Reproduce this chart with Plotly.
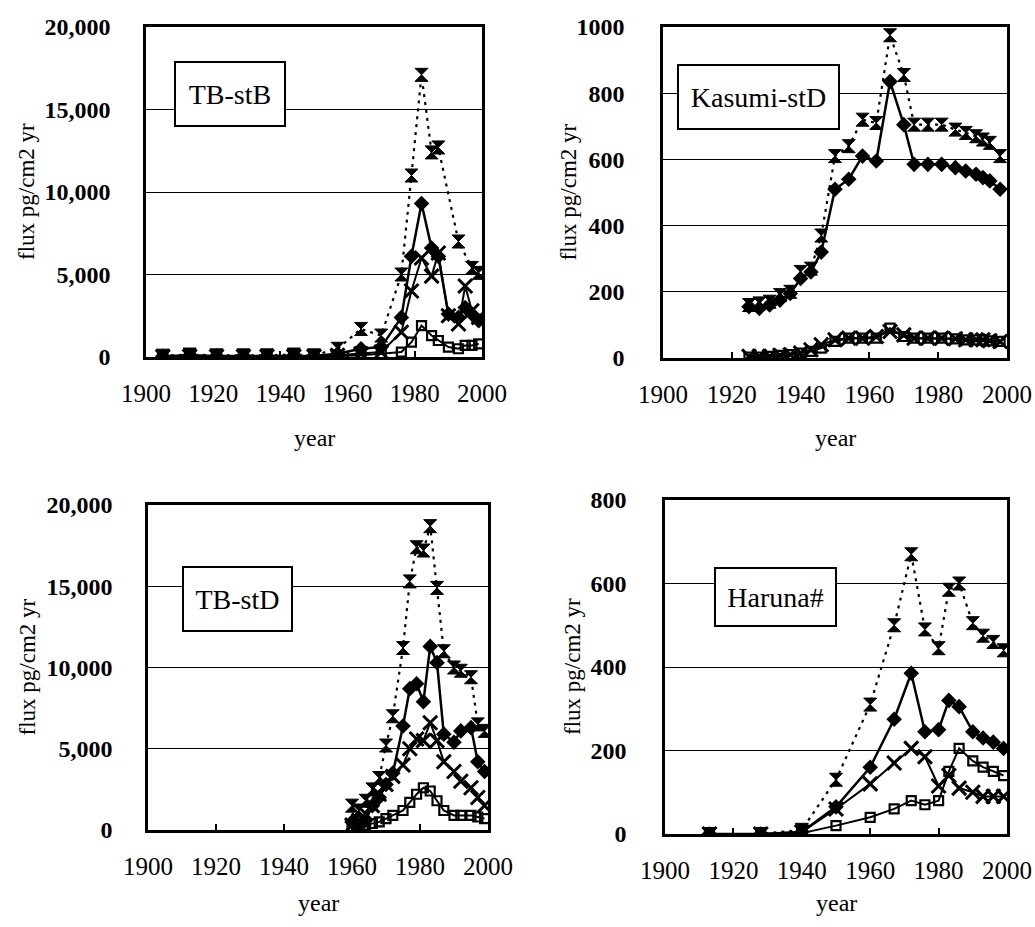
import plotly.graph_objects as go

# ---------------- data ----------------
# Panel 1: TB-stB
tbB_years = [1905, 1913, 1921, 1929, 1936, 1944, 1950, 1957, 1964, 1970,
             1976, 1979, 1982, 1985, 1987, 1990, 1993, 1995, 1997, 1999]
tbB_total_years = [1905, 1913, 1921, 1929, 1936, 1944, 1950, 1957, 1964, 1970,
                   1976, 1979, 1982, 1985, 1987, 1993, 1997, 1999]
tbB_total = [80, 150, 100, 100, 100, 150, 100, 500, 1700, 1300,
             5000, 11000, 17100, 12400, 12700, 7000, 5400, 5100]
tbB_diamond = [50, 100, 60, 60, 60, 100, 60, 200, 500, 600,
               2400, 6100, 9300, 6600, 6100, 2600, 2400, 3000, 2600, 2200]
tbB_cross = [20, 40, 30, 30, 30, 40, 30, 100, 200, 300,
             1500, 4000, 6000, 4900, 6300, 2500, 2000, 4300, 2800, 2400]
tbB_square = [10, 20, 10, 10, 10, 20, 10, 50, 100, 200,
              300, 900, 1900, 1300, 1000, 600, 500, 700, 700, 800]

# Panel 2: Kasumi-stD
kas_years = [1925, 1928, 1931, 1934, 1937, 1940, 1943, 1946, 1950, 1954, 1958, 1962,
             1966, 1970, 1973, 1977, 1981, 1985, 1988, 1991, 1993, 1995, 1998]
kas_total = [160, 165, 170, 190, 200, 260, 270, 370, 610, 640, 720, 710,
             975, 855, 705, 705, 705, 690, 680, 670, 660, 650, 610]
kas_diamond = [155, 150, 160, 175, 195, 240, 260, 320, 510, 540, 610, 595,
               835, 705, 585, 585, 585, 575, 565, 555, 545, 535, 510]
kas_cross = [5, 5, 5, 8, 10, 15, 25, 40, 55, 60, 60, 65,
             80, 70, 60, 60, 60, 58, 55, 55, 55, 52, 50]
kas_square = [3, 3, 5, 8, 10, 15, 20, 30, 50, 60, 60, 60,
              90, 65, 60, 60, 60, 58, 55, 55, 55, 52, 50]

# Panel 3: TB-stD
tbD_years = [1960, 1962, 1964, 1966, 1968, 1970, 1972, 1975, 1977, 1979,
             1981, 1983, 1985, 1987, 1990, 1992, 1995, 1997, 1999]
tbD_total = [1500, 1200, 1800, 2500, 3200, 5200, 7000, 11200, 15300, 17400,
             17200, 18700, 14900, 11000, 10000, 9800, 9400, 6500, 6100]
tbD_diamond = [500, 300, 600, 1500, 2000, 2800, 3500, 6400, 8700, 9000,
               7900, 11300, 10300, 5900, 5400, 6100, 6300, 4200, 3600]
tbD_cross = [300, 600, 1000, 1500, 2200, 2800, 3300, 4000, 5000, 5600,
             5500, 6600, 5500, 4200, 3600, 3000, 2600, 2000, 1500]
tbD_square = [200, 200, 300, 400, 500, 700, 900, 1200, 1700, 2200,
              2600, 2400, 1800, 1200, 900, 900, 900, 800, 700]

# Panel 4: Haruna#
har_years = [1913, 1928, 1940, 1950, 1960, 1967, 1972, 1976, 1980,
             1983, 1986, 1990, 1993, 1996, 1999]
har_total = [0, 0, 10, 130, 310, 500, 670, 490, 445, 585, 600, 505, 475, 460, 440]
har_diamond = [0, 0, 5, 65, 160, 275, 385, 245, 250, 320, 305, 245, 230, 220, 205]
har_cross = [0, 0, 5, 60, 120, 170, 205, 185, 115, 140, 110, 100, 90, 90, 90]
har_square = [0, 0, 2, 20, 40, 60, 80, 70, 80, 150, 205, 175, 160, 150, 140]

x_ticks = [1900, 1920, 1940, 1960, 1980, 2000]
panel_labels = ["TB-stB", "Kasumi-stD", "TB-stD", "Haruna#"]

# ---------------- figure ----------------
W, H = 1035, 927
SERIF = "Liberation Serif"

def px_x(p):
    return p / W

def px_y(p):
    return 1 - p / H

fig = go.Figure()

panels = [
    dict(years=tbB_years, tyears=tbB_total_years, total=tbB_total, diamond=tbB_diamond,
         cross=tbB_cross, square=tbB_square, ax=""),
    dict(years=kas_years, tyears=kas_years, total=kas_total, diamond=kas_diamond,
         cross=kas_cross, square=kas_square, ax="2"),
    dict(years=tbD_years, tyears=tbD_years, total=tbD_total, diamond=tbD_diamond,
         cross=tbD_cross, square=tbD_square, ax="3"),
    dict(years=har_years, tyears=har_years, total=har_total, diamond=har_diamond,
         cross=har_cross, square=har_square, ax="4"),
]

for p in panels:
    xa, ya = "x" + p["ax"], "y" + p["ax"]
    fig.add_trace(go.Scatter(x=p["years"], y=p["square"], xaxis=xa, yaxis=ya, mode="lines+markers",
                             line=dict(color="black", width=2),
                             marker=dict(symbol="square-open", size=9, color="black",
                                         line=dict(width=2.2, color="black"))))
    fig.add_trace(go.Scatter(x=p["years"], y=p["cross"], xaxis=xa, yaxis=ya, mode="lines+markers",
                             line=dict(color="black", width=2),
                             marker=dict(symbol="x-thin-open", size=14, color="black",
                                         line=dict(width=3, color="black"))))
    fig.add_trace(go.Scatter(x=p["years"], y=p["diamond"], xaxis=xa, yaxis=ya, mode="lines+markers",
                             line=dict(color="black", width=2.5),
                             marker=dict(symbol="diamond", size=12, color="black")))
    fig.add_trace(go.Scatter(x=p["tyears"], y=p["total"], xaxis=xa, yaxis=ya, mode="lines+markers",
                             line=dict(color="black", width=2.2, dash="3px,5px"),
                             marker=dict(symbol="hourglass", size=13, color="black",
                                         line=dict(width=1, color="black"))))

# panel geometry in page pixels: (left, right, top, bottom)
geo = [
    (146, 482, 27, 357),
    (663, 1007, 27, 358),
    (148, 488, 505, 830),
    (665, 1007, 500, 834),
]
yranges = [[0, 20000], [0, 1000], [0, 20000], [0, 800]]
ydtick = [5000, 200, 5000, 200]
yfmt = [",", "d", ",", "d"]
ystand = [28, 31, 28, 31]

layout = dict(width=W, height=H, margin=dict(l=0, r=0, t=0, b=0, autoexpand=False),
              plot_bgcolor="white", paper_bgcolor="white", showlegend=False)

for i, (l, r, t, b) in enumerate(geo):
    s = "" if i == 0 else str(i + 1)
    layout["xaxis" + s] = dict(domain=[px_x(l), px_x(r)], range=[1900, 2000], automargin=False,
                               anchor="y" + s, tickvals=x_ticks, ticks="inside", ticklen=6,
                               tickcolor="black", tickwidth=1.5,
                               showline=True, linecolor="black", linewidth=2.5, mirror=True,
                               showgrid=False, zeroline=False,
                               tickfont=dict(family=SERIF, size=25, color="black"),
                               ticklabelstandoff=12)
    layout["yaxis" + s] = dict(domain=[px_y(b), px_y(t)], range=yranges[i], dtick=ydtick[i],
                               anchor="x" + s, tickformat=yfmt[i], automargin=False,
                               showline=True, linecolor="black", linewidth=2.5, mirror=True,
                               showgrid=True, gridcolor="black", gridwidth=1, zeroline=False,
                               ticks="",
                               tickfont=dict(family=SERIF, size=24, color="black", weight="bold"),
                               ticklabelstandoff=ystand[i])

fig.update_layout(**layout)

annotations = []
# axis titles
ytitle_x = [27, 568, 27, 572]
year_y = [438, 438, 903, 903]
for i, (l, r, t, b) in enumerate(geo):
    annotations.append(dict(text="flux pg/cm2 yr", x=px_x(ytitle_x[i]), y=px_y((t + b) / 2),
                            xref="paper", yref="paper", showarrow=False, textangle=-90,
                            xanchor="center", yanchor="middle",
                            font=dict(family=SERIF, size=23, color="black")))
    annotations.append(dict(text="year", x=px_x((l + r) / 2), y=px_y(year_y[i]),
                            xref="paper", yref="paper", showarrow=False,
                            xanchor="center", yanchor="middle",
                            font=dict(family=SERIF, size=24, color="black")))

# panel label boxes (center x, center y, width, height) in page pixels
boxes = [(230, 94, 96, 50), (758, 97, 147, 50), (237, 599, 95, 50), (775, 597, 107, 44)]
for lab, (cx, cy, bw, bh) in zip(panel_labels, boxes):
    annotations.append(dict(text=lab, x=px_x(cx), y=px_y(cy), xref="paper", yref="paper",
                            showarrow=False, xanchor="center", yanchor="middle",
                            width=bw, height=bh, align="center", valign="middle",
                            bgcolor="white", bordercolor="black", borderwidth=2, borderpad=6,
                            font=dict(family=SERIF, size=28, color="black")))

fig.update_layout(annotations=annotations)

# remove the default page margin so figure pixels equal page pixels
fig.write_html("out.html", config={"displayModeBar": False},
               post_script="document.body.style.margin='0';document.body.style.overflow='hidden';")
